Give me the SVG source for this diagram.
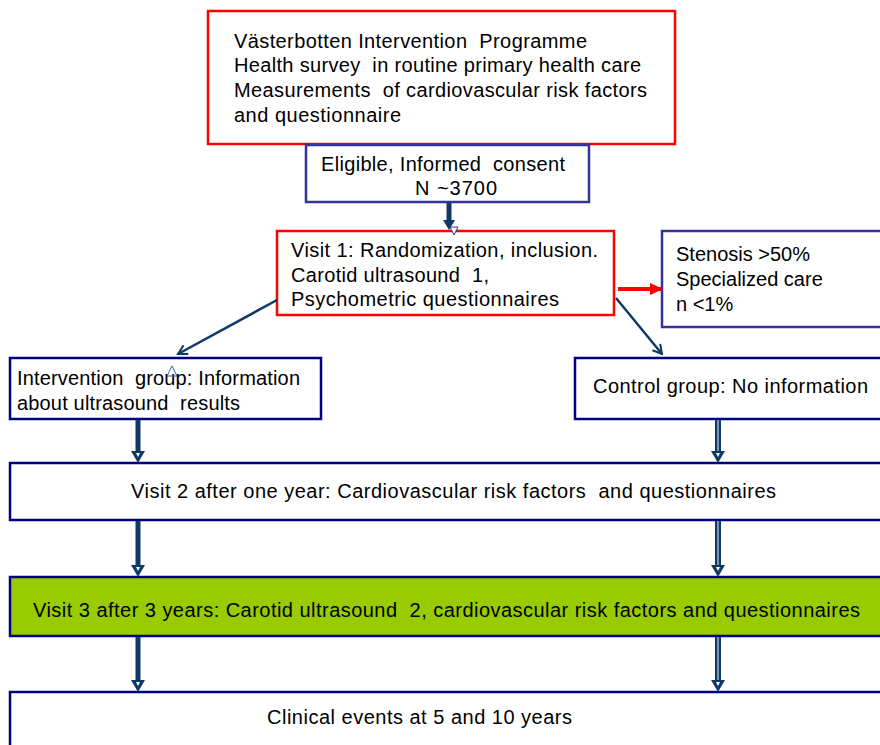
<svg xmlns="http://www.w3.org/2000/svg" width="880" height="745" viewBox="0 0 880 745">
<style>
text{font-family:"Liberation Sans",Arial,sans-serif;font-size:20px;fill:#000;white-space:pre}
.red{fill:#fff;stroke:#ff0000;stroke-width:2.5}
.blu{fill:#fff;stroke:#333399;stroke-width:2.5}
.nav{fill:#fff;stroke:#000080;stroke-width:2.5}
.grn{fill:#99cc00;stroke:#000080;stroke-width:2.5}
.ln{stroke:#0f3a66;stroke-width:2.5;fill:none}
.thick{stroke:#0f3a66;stroke-width:5;fill:none}
.dbl{stroke:#0f3a66;stroke-width:6;fill:none}
.dblin{stroke:#9fb6d3;stroke-width:1.5;fill:none}
.head{fill:#0f3a66}
</style>
<defs>
<marker id="open" markerWidth="12" markerHeight="12" refX="10" refY="6" orient="auto" markerUnits="userSpaceOnUse">
<path d="M1,1 L10,6 L1,11" fill="none" stroke="#0f3a66" stroke-width="2"/>
</marker>
<marker id="redh" markerWidth="14" markerHeight="14" refX="12" refY="7" orient="auto" markerUnits="userSpaceOnUse">
<path d="M0,1 L13,7 L0,13 Z" fill="#ff0000"/>
</marker>
</defs>

<g id="vip">
<rect class="red" x="208" y="11" width="467" height="133"/>
<text x="234" y="48" textLength="353" lengthAdjust="spacing">Västerbotten Intervention  Programme</text>
<text x="234" y="72" textLength="407" lengthAdjust="spacing">Health survey  in routine primary health care</text>
<text x="234" y="97" textLength="413" lengthAdjust="spacing">Measurements  of cardiovascular risk factors</text>
<text x="234" y="122" textLength="167" lengthAdjust="spacing">and questionnaire</text>
</g>

<g id="eligible">
<rect class="blu" x="306" y="145" width="283" height="57"/>
<text x="321" y="171" textLength="244" lengthAdjust="spacing">Eligible, Informed  consent</text>
<text x="415" y="195" textLength="82" lengthAdjust="spacing">N ~3700</text>
</g>

<g id="visit1">
<rect class="red" x="277" y="231" width="337" height="84"/>
<text x="291" y="257" textLength="307" lengthAdjust="spacing">Visit 1: Randomization, inclusion.</text>
<text x="291" y="282" textLength="198" lengthAdjust="spacing">Carotid ultrasound  1,</text>
<text x="291" y="306" textLength="268" lengthAdjust="spacing">Psychometric questionnaires</text>
</g>

<g id="stenosis">
<rect class="blu" x="662" y="231" width="222" height="96"/>
<text x="676" y="261">Stenosis &gt;50%</text>
<text x="676" y="286">Specialized care</text>
<text x="676" y="311">n &lt;1%</text>
</g>

<g id="intervention">
<rect class="nav" x="10" y="358" width="311" height="61"/>
<text x="17" y="385" textLength="283" lengthAdjust="spacing">Intervention  group: Information</text>
<text x="17" y="410" textLength="223" lengthAdjust="spacing">about ultrasound  results</text>
</g>

<g id="control">
<rect class="nav" x="575" y="358" width="310" height="61"/>
<text x="593" y="393" textLength="275" lengthAdjust="spacing">Control group: No information</text>
</g>

<g id="visit2">
<rect class="nav" x="10" y="463" width="875" height="57"/>
<text x="131" y="498" textLength="645" lengthAdjust="spacing">Visit 2 after one year: Cardiovascular risk factors  and questionnaires</text>
</g>

<g id="visit3">
<rect class="grn" x="10" y="577" width="875" height="59"/>
<text x="33" y="617" textLength="827" lengthAdjust="spacing">Visit 3 after 3 years: Carotid ultrasound  2, cardiovascular risk factors and questionnaires</text>
</g>

<g id="clinical">
<rect class="nav" x="10" y="692" width="875" height="60"/>
<text x="267" y="724" textLength="305" lengthAdjust="spacing">Clinical events at 5 and 10 years</text>
</g>

<g id="connectors">
<line class="thick" x1="449" y1="203" x2="449" y2="222"/>
<path class="head" d="M443,220 L455,220 L449,230 Z"/>
<path d="M450,227 L458,227 L454,235 Z" fill="#fff" stroke="#333399" stroke-width="1"/>
<line class="ln" x1="277" y1="300" x2="178" y2="354" marker-end="url(#open)"/>
<line class="ln" x1="616" y1="298" x2="662" y2="354" marker-end="url(#open)"/>
<line x1="618" y1="289" x2="662" y2="289" stroke="#ff0000" stroke-width="4" marker-end="url(#redh)"/>
<path d="M172,366 L177,376 L167,376 Z" fill="none" stroke="#3366aa" stroke-width="1"/>
<line class="thick" x1="138" y1="420" x2="138" y2="455"/>
<path class="head" d="M131,451 L145,451 L138,463 Z"/>
<path d="M136,453 L140,453 L138,457 Z" fill="#fff"/>
<line class="thick" x1="138" y1="521" x2="138" y2="569"/>
<path class="head" d="M131,565 L145,565 L138,577 Z"/>
<path d="M136,567 L140,567 L138,571 Z" fill="#fff"/>
<line class="thick" x1="138" y1="637" x2="138" y2="684"/>
<path class="head" d="M131,680 L145,680 L138,692 Z"/>
<path d="M136,682 L140,682 L138,686 Z" fill="#fff"/>
<line class="dbl" x1="718" y1="420" x2="718" y2="453"/>
<line class="dblin" x1="718" y1="420" x2="718" y2="452"/>
<path class="head" d="M711,451 L725,451 L718,463 Z"/>
<path d="M716,453 L720,453 L718,457 Z" fill="#fff"/>
<line class="dbl" x1="718" y1="521" x2="718" y2="567"/>
<line class="dblin" x1="718" y1="521" x2="718" y2="566"/>
<path class="head" d="M711,565 L725,565 L718,577 Z"/>
<path d="M716,567 L720,567 L718,571 Z" fill="#fff"/>
<line class="dbl" x1="718" y1="637" x2="718" y2="682"/>
<line class="dblin" x1="718" y1="637" x2="718" y2="681"/>
<path class="head" d="M711,680 L725,680 L718,692 Z"/>
<path d="M716,682 L720,682 L718,686 Z" fill="#fff"/>
</g>
</svg>
